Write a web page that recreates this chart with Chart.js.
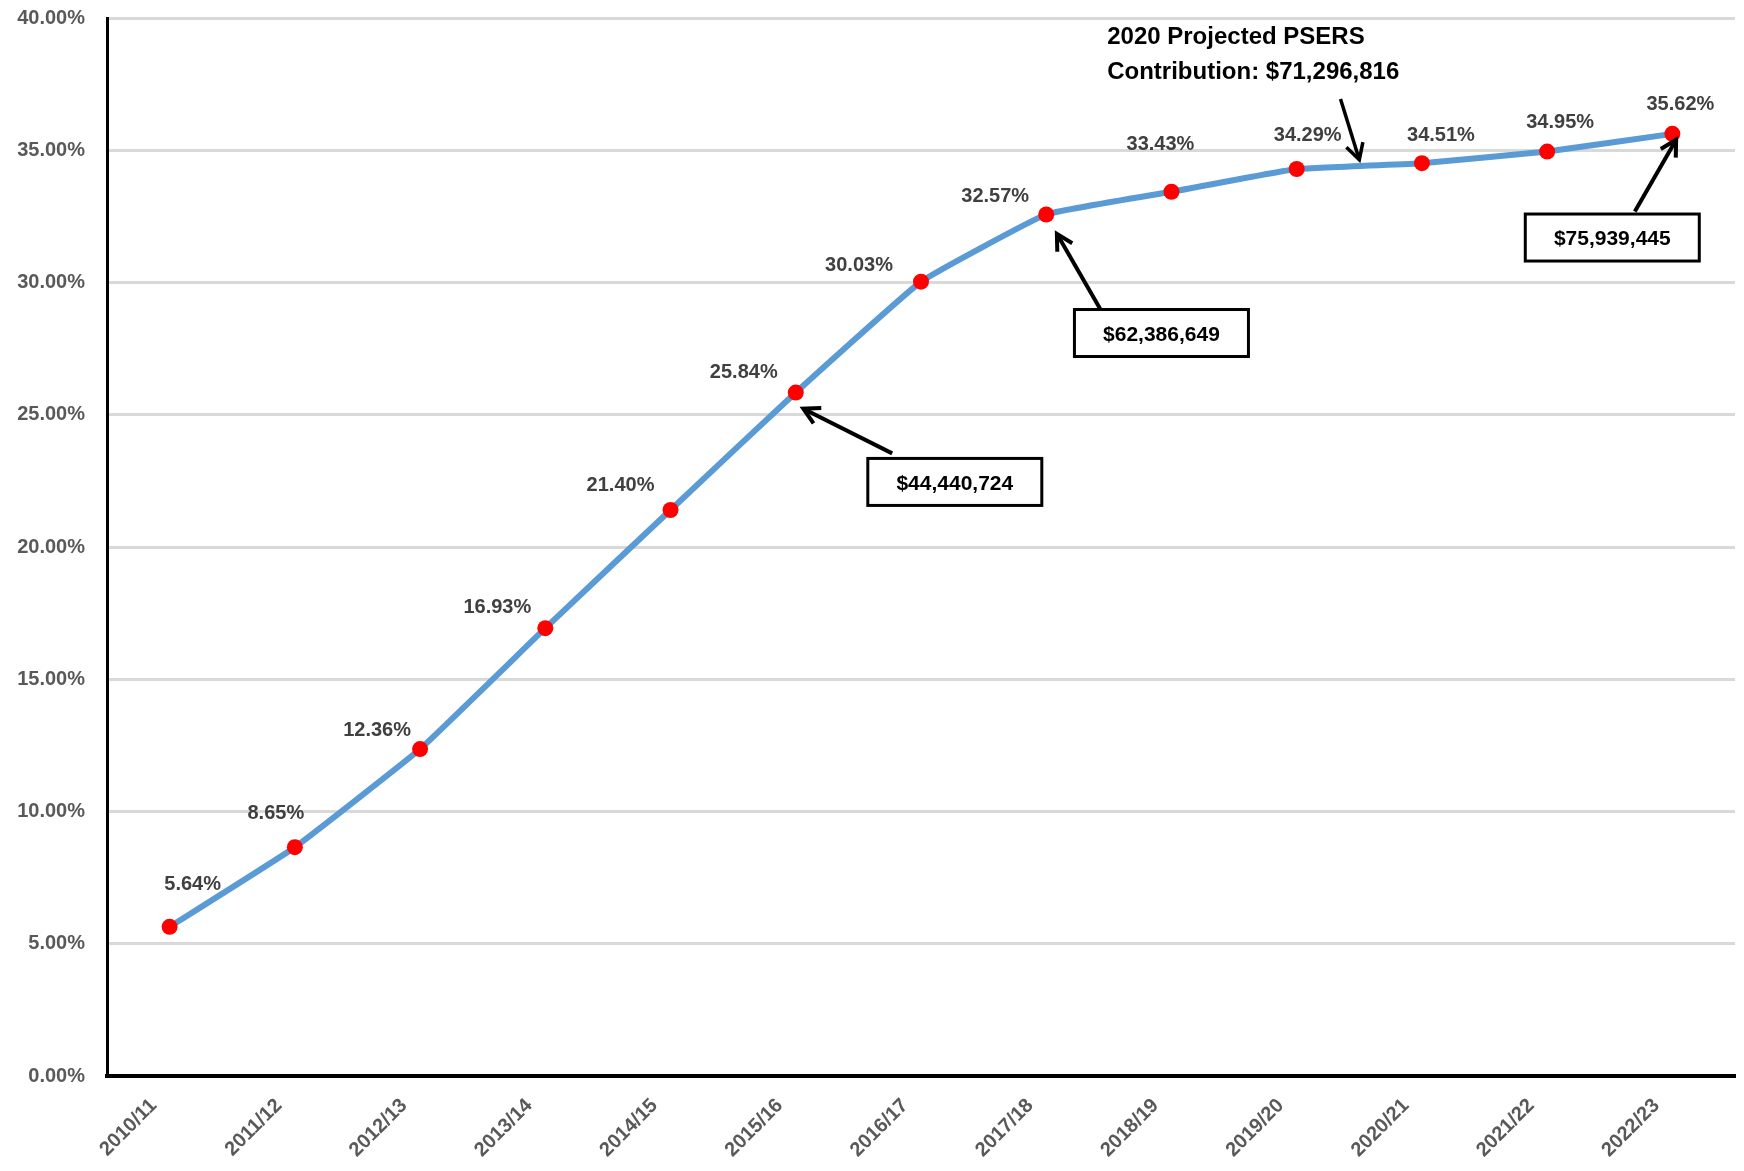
<!DOCTYPE html>
<html>
<head>
<meta charset="utf-8">
<title>PSERS employer contribution rate</title>
<script src="https://cdn.jsdelivr.net/npm/chart.js@4/dist/chart.umd.min.js"></script>
<style>
  html, body { margin: 0; padding: 0; background: #ffffff; }
  #wrap { width: 1744px; height: 1171px; }
</style>
</head>
<body>
<div id="wrap"><canvas id="rateChart" width="1744" height="1171"></canvas></div>
<script>
// ---------- DATA ----------
const fiscalYears = ["2010/11", "2011/12", "2012/13", "2013/14", "2014/15", "2015/16", "2016/17",
                     "2017/18", "2018/19", "2019/20", "2020/21", "2021/22", "2022/23"];
// employer contribution rate, percent of payroll
const employerRates = [5.64, 8.65, 12.36, 16.93, 21.40, 25.84, 30.03, 32.57, 33.43, 34.29, 34.51, 34.95, 35.62];

const yMax = 40;
const yStep = 5;

// dollar amounts called out in the boxes
const calloutAmounts = ["$44,440,724", "$62,386,649", "$75,939,445"];
const noteLines = ["2020 Projected PSERS", "Contribution: $71,296,816"];

// ---------- STYLE ----------
const FONT = '"Liberation Sans", Arial, sans-serif';

// where each % label sits relative to its point (px)
const labelOffsets = [
  [23, -42], [-19, -34], [-43, -19], [-48, -21], [-50, -24], [-52, -20], [-62, -16],
  [-51, -18], [-11, -47], [11, -34], [19, -28], [13, -29], [8, -29]
];

// boxes + arrows, placed in data space (x = category index, y = percent)
const callouts = [
  { box: [6.27, 22.46], tail: [5.77, 23.54], tip: [5.06, 25.23] },
  { box: [7.92, 28.09], tail: [7.43, 29.01], tip: [7.085, 31.84] },
  { box: [11.52, 31.70], tail: [11.70, 32.68], tip: [12.03, 35.40] }
];
const notePos = { text: [7.487, 39.25], lineGap: 35, tail: [9.35, 36.94], tip: [9.50, 34.64] };

// ---------- PLUGINS ----------
const pointLabels = {
  id: "pointLabels",
  afterDatasetsDraw(chart) {
    const ctx = chart.ctx;
    const meta = chart.getDatasetMeta(0);
    ctx.save();
    ctx.font = "bold 20px " + FONT;
    ctx.fillStyle = "#404040";
    ctx.textAlign = "center";
    ctx.textBaseline = "middle";
    meta.data.forEach((pt, i) => {
      const [dx, dy] = labelOffsets[i];
      ctx.fillText(employerRates[i].toFixed(2) + "%", pt.x + dx, pt.y + dy);
    });
    ctx.restore();
  }
};

function drawArrow(ctx, x1, y1, x2, y2) {
  const ang = Math.atan2(y2 - y1, x2 - x1);
  const head = 18, spread = 0.5;
  ctx.beginPath();
  ctx.moveTo(x1, y1);
  ctx.lineTo(x2, y2);
  ctx.stroke();
  ctx.beginPath();
  ctx.moveTo(x2 - head * Math.cos(ang - spread), y2 - head * Math.sin(ang - spread));
  ctx.lineTo(x2, y2);
  ctx.lineTo(x2 - head * Math.cos(ang + spread), y2 - head * Math.sin(ang + spread));
  ctx.stroke();
}

const calloutBoxes = {
  id: "calloutBoxes",
  afterDraw(chart) {
    const ctx = chart.ctx;
    const xs = chart.scales.x, ys = chart.scales.y;
    const px = p => [xs.getPixelForValue(p[0]), ys.getPixelForValue(p[1])];
    ctx.save();
    ctx.strokeStyle = "#000";
    ctx.lineJoin = "miter";

    callouts.forEach((c, i) => {
      const [tx, ty] = px(c.tail);
      const [hx, hy] = px(c.tip);
      ctx.lineWidth = 4;
      drawArrow(ctx, tx, ty, hx, hy);

      const [bx, by] = px(c.box);
      const w = 174, h = 47;
      ctx.fillStyle = "#fff";
      ctx.fillRect(bx - w / 2, by - h / 2, w, h);
      ctx.lineWidth = 3;
      ctx.strokeRect(bx - w / 2, by - h / 2, w, h);
      ctx.fillStyle = "#000";
      ctx.font = "bold 21px " + FONT;
      ctx.textAlign = "center";
      ctx.textBaseline = "middle";
      ctx.fillText(calloutAmounts[i], bx, by + 2);
    });

    // projected 2020 contribution note
    const [nx, ny] = px(notePos.text);
    ctx.fillStyle = "#000";
    ctx.font = "bold 24px " + FONT;
    ctx.textAlign = "left";
    ctx.textBaseline = "middle";
    noteLines.forEach((line, i) => ctx.fillText(line, nx, ny + i * notePos.lineGap));
    const [ax, ay] = px(notePos.tail);
    const [bx2, by2] = px(notePos.tip);
    ctx.lineWidth = 3.5;
    drawArrow(ctx, ax, ay, bx2, by2);
    ctx.restore();
  }
};

// ---------- CHART ----------
new Chart(document.getElementById("rateChart"), {
  type: "line",
  data: {
    labels: fiscalYears,
    datasets: [{
      data: employerRates,
      borderColor: "#5b9bd5",
      borderWidth: 6,
      tension: 0.1,
      pointRadius: 8,
      pointBackgroundColor: "#ff0000",
      pointBorderColor: "#ff0000",
      pointBorderWidth: 0
    }]
  },
  options: {
    responsive: false,
    animation: false,
    layout: { padding: { top: 18, right: 9, left: 0, bottom: 0 } },
    plugins: { legend: { display: false }, tooltip: { enabled: false } },
    scales: {
      x: {
        offset: true,
        grid: { display: false },
        border: { color: "#000", width: 4 },
        ticks: {
          autoSkip: false,
          minRotation: 45,
          maxRotation: 45,
          padding: 10,
          labelOffset: -16,
          color: "#595959",
          font: { family: FONT, size: 20, weight: "bold" }
        },
        afterFit: s => { s.height = 95; s.paddingLeft = 0; s.paddingRight = 0; }
      },
      y: {
        min: 0,
        max: yMax,
        grid: { color: "#d9d9d9", lineWidth: 3, drawTicks: false },
        border: { color: "#000", width: 3 },
        ticks: {
          stepSize: yStep,
          padding: 22,
          color: "#595959",
          font: { family: FONT, size: 20, weight: "bold" },
          callback: v => v.toFixed(2) + "%"
        },
        // the top label may hang over the edge; keep the plot box fixed
        afterFit: s => { s.width = 107; s.paddingTop = 0; s.paddingBottom = 0; }
      }
    }
  },
  plugins: [pointLabels, calloutBoxes]
});
</script>
</body>
</html>
